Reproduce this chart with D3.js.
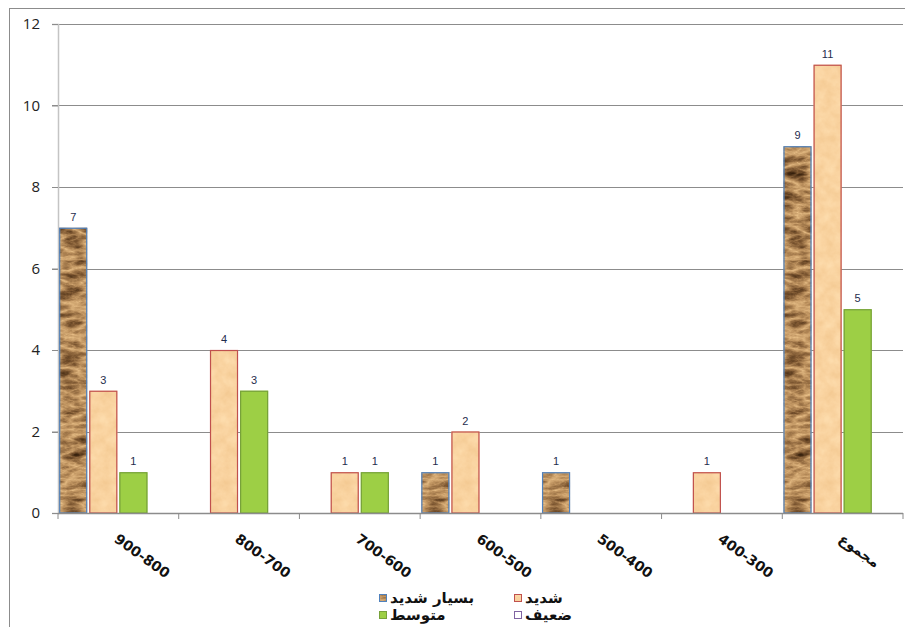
<!DOCTYPE html>
<html>
<head>
<meta charset="utf-8">
<script src="https://cdn.jsdelivr.net/npm/d3@7"></script>
<style>
  body { margin: 0; background: #fff; }
  #chart svg { display: block; }
</style>
</head>
<body>
<div id="chart"></div>
<script>
// chart data
const categories = ["900-800", "800-700", "700-600", "600-500", "500-400", "400-300", "مجموع"];
const seriesNames = ["بسیار شدید", "شدید", "متوسط", "ضعیف"];
const veryHigh = [7, 0, 0, 1, 1, 0, 9];
const high = [3, 4, 1, 2, 0, 1, 11];
const medium = [1, 3, 1, 0, 0, 0, 5];
const low = [0, 0, 0, 0, 0, 0, 0];
const yTicks = [0, 2, 4, 6, 8, 10, 12];

{
    const W = 905, H = 627;
    const margin = { top: 24, right: 2, bottom: 114, left: 58 };
    const width = W - margin.left - margin.right;
    const height = H - margin.top - margin.bottom;

    const svg = d3.select("#chart")
        .append("svg")
        .attr("width", W)
        .attr("height", H);

    const defs = svg.append("defs");

    // crumpled-paper look for textured bars
    function paperFilter(id, freq, r, g, b, type) {
        const f = defs.append("filter").attr("id", id)
            .attr("color-interpolation-filters", "sRGB")
            .attr("x", "0").attr("y", "0").attr("width", "1").attr("height", "1");
        f.append("feTurbulence").attr("type", type).attr("baseFrequency", freq)
            .attr("numOctaves", 4).attr("seed", 7).attr("result", "noise");
        f.append("feColorMatrix").attr("type", "matrix")
            .attr("values", "1 0 0 0 0  1 0 0 0 0  1 0 0 0 0  0 0 0 0 1").attr("result", "gray");
        const ct = f.append("feComponentTransfer").attr("result", "col");
        ct.append("feFuncR").attr("type", "table").attr("tableValues", r);
        ct.append("feFuncG").attr("type", "table").attr("tableValues", g);
        ct.append("feFuncB").attr("type", "table").attr("tableValues", b);
        f.append("feComposite").attr("in", "col").attr("in2", "SourceGraphic").attr("operator", "in");
    }
    paperFilter("darkPaper", "0.035 0.09",
        "0.92 0.74 0.5 0.26 0.12", "0.76 0.57 0.35 0.16 0.07", "0.54 0.37 0.2 0.07 0.02", "turbulence");
    paperFilter("lightPaper", "0.09 0.09", "0.95 0.98 1", "0.78 0.83 0.88", "0.56 0.63 0.7", "fractalNoise");

    const styles = [
        { fill: "#8a5f33", filter: "url(#darkPaper)", stroke: "#4f81bd" },
        { fill: "#fad4a2", filter: "url(#lightPaper)", stroke: "#c0504d" },
        { fill: "#9dcf45", filter: null, stroke: "#77a23a" },
        { fill: "#ffffff", filter: null, stroke: "#8064a2" }
    ];

    const seriesValues = [veryHigh, high, medium, low];

    // outer chart border
    svg.append("rect")
        .attr("x", 9.5).attr("y", 8.5)
        .attr("width", W + 20).attr("height", H + 20)
        .attr("fill", "none").attr("stroke", "#8c8c8c");

    const g = svg.append("g")
        .attr("transform", `translate(${margin.left},${margin.top})`);

    const x = d3.scaleBand().domain(categories).range([0, width]).padding(0);
    const xs = d3.scaleBand().domain(d3.range(seriesNames.length))
        .range([0, x.bandwidth()]).paddingInner(0.07).paddingOuter(0.04);
    const y = d3.scaleLinear().domain([0, 12]).range([height, 0]);

    // gridlines
    g.append("g")
        .selectAll("line")
        .data(yTicks.filter(d => d > 0))
        .join("line")
        .attr("x1", -6).attr("x2", width)
        .attr("y1", d => Math.round(y(d)) + 0.5).attr("y2", d => Math.round(y(d)) + 0.5)
        .attr("stroke", "#8c8c8c");

    // y axis
    const yAxis = g.append("g")
        .call(d3.axisLeft(y).tickValues(yTicks).tickSize(6).tickPadding(12));
    yAxis.select(".domain").attr("stroke", "#c4c4c4").attr("stroke-width", 1.5);
    yAxis.selectAll(".tick line").attr("stroke", "#8c8c8c");
    yAxis.selectAll("text")
        .attr("fill", "#222")
        .style("font-family", "'Open Sans', 'Liberation Sans', sans-serif")
        .style("font-size", "15px");

    // bars
    const rows = [];
    categories.forEach((c, i) => {
        seriesValues.forEach((vals, s) => {
            rows.push({ cat: c, s: s, value: vals[i] });
        });
    });
    const shown = rows.filter(d => d.value > 0);

    const bars = g.append("g").selectAll("g")
        .data(shown)
        .join("g")
        .attr("transform", d => `translate(${x(d.cat) + xs(d.s)},0)`);

    bars.append("rect")
        .attr("width", xs.bandwidth())
        .attr("y", d => y(d.value))
        .attr("height", d => y(0) - y(d.value))
        .attr("fill", d => styles[d.s].fill)
        .attr("filter", d => styles[d.s].filter);

    bars.append("rect")
        .attr("x", 0.5)
        .attr("width", xs.bandwidth() - 1)
        .attr("y", d => y(d.value) + 0.5)
        .attr("height", d => y(0) - y(d.value) - 0.5)
        .attr("fill", "none")
        .attr("stroke", d => styles[d.s].stroke)
        .attr("stroke-width", 1.2);

    // value labels
    bars.append("text")
        .attr("x", xs.bandwidth() / 2)
        .attr("y", d => y(d.value) - 7)
        .attr("text-anchor", "middle")
        .attr("fill", "#1f2d4d")
        .style("font-family", "'Liberation Sans', sans-serif")
        .style("font-size", "11px")
        .text(d => d.value);

    // x axis
    const xAxis = g.append("g")
        .attr("transform", `translate(0,${height})`);
    xAxis.append("line")
        .attr("x1", 0).attr("x2", width)
        .attr("y1", 0.5).attr("y2", 0.5)
        .attr("stroke", "#8c8c8c").attr("stroke-width", 1.5);
    xAxis.selectAll(".xtick")
        .data(categories.concat([null]))
        .join("line")
        .attr("class", "xtick")
        .attr("x1", (d, i) => i * x.step()).attr("x2", (d, i) => i * x.step())
        .attr("y1", 0).attr("y2", 6)
        .attr("stroke", "#8c8c8c");
    xAxis.selectAll(".xlabel")
        .data(categories)
        .join("text")
        .attr("class", "xlabel")
        .attr("transform", d => `translate(${x(d) + x.bandwidth() / 2 - 5},${28}) rotate(36)`)
        .attr("text-anchor", "start")
        .attr("fill", "#111")
        .style("font-family", "'DejaVu Sans', sans-serif")
        .style("font-weight", "bold")
        .style("font-size", "14px")
        .text(d => d);

    // legend, 2 x 2
    const legend = svg.append("g")
        .selectAll("g")
        .data(seriesNames)
        .join("g")
        .attr("transform", (d, i) => `translate(${379 + (i % 2) * 135},${594 + Math.floor(i / 2) * 17})`);

    legend.append("rect")
        .attr("width", 8).attr("height", 8)
        .attr("fill", (d, i) => styles[i].fill)
        .attr("filter", (d, i) => styles[i].filter);
    legend.append("rect")
        .attr("x", 0.5).attr("y", 0.5)
        .attr("width", 7).attr("height", 7)
        .attr("fill", "none")
        .attr("stroke", (d, i) => styles[i].stroke);
    legend.append("text")
        .attr("x", 11).attr("y", 8.5)
        .attr("fill", "#111")
        .style("font-family", "'DejaVu Sans', sans-serif")
        .style("font-weight", "bold")
        .style("font-size", "15px")
        .text(d => d);
}
</script>
</body>
</html>
